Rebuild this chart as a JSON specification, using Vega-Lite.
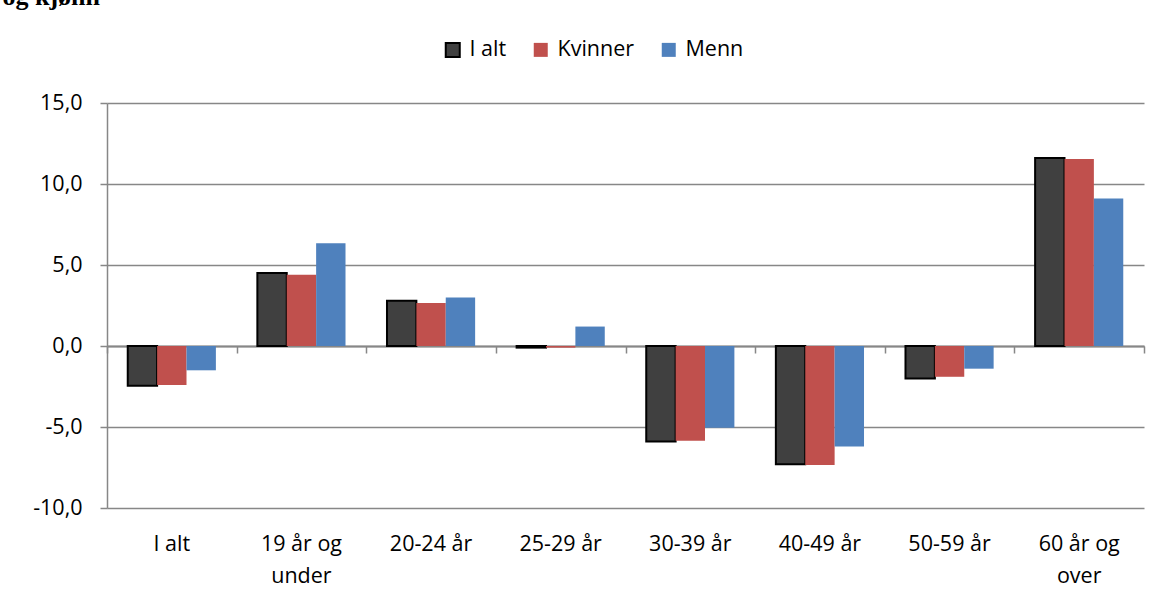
{
  "$schema": "https://vega.github.io/schema/vega-lite/v6.json",
  "width": 1037,
  "height": 405,
  "autosize": {"type": "none"},
  "padding": {"left": 107, "top": 103, "right": 18, "bottom": 92},
  "background": "white",
  "data": {
    "values": [
      {"gruppe": "I alt", "serie": "I alt", "verdi": -2.45},
      {"gruppe": "I alt", "serie": "Kvinner", "verdi": -2.4},
      {"gruppe": "I alt", "serie": "Menn", "verdi": -1.5},
      {"gruppe": "19 år og under", "serie": "I alt", "verdi": 4.5},
      {"gruppe": "19 år og under", "serie": "Kvinner", "verdi": 4.4},
      {"gruppe": "19 år og under", "serie": "Menn", "verdi": 6.35},
      {"gruppe": "20-24 år", "serie": "I alt", "verdi": 2.8},
      {"gruppe": "20-24 år", "serie": "Kvinner", "verdi": 2.65},
      {"gruppe": "20-24 år", "serie": "Menn", "verdi": 3.0},
      {"gruppe": "25-29 år", "serie": "I alt", "verdi": -0.1},
      {"gruppe": "25-29 år", "serie": "Kvinner", "verdi": -0.1},
      {"gruppe": "25-29 år", "serie": "Menn", "verdi": 1.2},
      {"gruppe": "30-39 år", "serie": "I alt", "verdi": -5.9},
      {"gruppe": "30-39 år", "serie": "Kvinner", "verdi": -5.85},
      {"gruppe": "30-39 år", "serie": "Menn", "verdi": -5.05},
      {"gruppe": "40-49 år", "serie": "I alt", "verdi": -7.3},
      {"gruppe": "40-49 år", "serie": "Kvinner", "verdi": -7.35},
      {"gruppe": "40-49 år", "serie": "Menn", "verdi": -6.2},
      {"gruppe": "50-59 år", "serie": "I alt", "verdi": -2.0},
      {"gruppe": "50-59 år", "serie": "Kvinner", "verdi": -1.9},
      {"gruppe": "50-59 år", "serie": "Menn", "verdi": -1.4},
      {"gruppe": "60 år og over", "serie": "I alt", "verdi": 11.6},
      {"gruppe": "60 år og over", "serie": "Kvinner", "verdi": 11.55},
      {"gruppe": "60 år og over", "serie": "Menn", "verdi": 9.1}
    ]
  },
  "layer": [
    {
      "mark": {"type": "bar", "strokeWidth": 2},
      "encoding": {
        "x": {
          "field": "gruppe",
          "type": "nominal",
          "sort": null,
          "scale": {"paddingInner": 0.32, "paddingOuter": 0.16},
          "axis": {
            "title": null,
            "orient": "bottom",
            "domain": false,
            "ticks": false,
            "labelAngle": 0,
            "labelFont": "Open Sans",
            "labelFontSize": 21.5,
            "labelColor": "#000000",
            "labelPadding": 25,
            "labelLineHeight": 32,
            "labelBaseline": "top",
            "labelExpr": "datum.value == '19 år og under' ? ['19 år og', 'under'] : datum.value == '60 år og over' ? ['60 år og', 'over'] : datum.value"
          }
        },
        "xOffset": {"field": "serie", "type": "nominal", "sort": ["I alt", "Kvinner", "Menn"]},
        "y": {
          "field": "verdi",
          "type": "quantitative",
          "scale": {"domain": [-10, 15], "nice": false, "zero": false},
          "axis": {
            "title": "og kjønn",
            "titleAngle": 0,
            "titleAlign": "left",
            "titleBaseline": "alphabetic",
            "titleX": -105,
            "titleY": -99,
            "titleFont": "Liberation Serif",
            "titleFontSize": 26,
            "titleFontWeight": "bold",
            "titleColor": "#000000",
            "values": [-10, -5, 0, 5, 10, 15],
            "grid": true,
            "gridColor": "#878787",
            "gridWidth": 1.5,
            "domain": true,
            "domainColor": "#878787",
            "domainWidth": 1.5,
            "tickColor": "#878787",
            "tickWidth": 1.5,
            "tickSize": 7,
            "labelPadding": 18,
            "labelFont": "Open Sans",
            "labelFontSize": 21.5,
            "labelColor": "#000000",
            "labelExpr": "replace(replace(format(datum.value, '.1f'), '.', ','), '−', '-')"
          }
        },
        "fill": {
          "field": "serie",
          "type": "nominal",
          "scale": {"domain": ["I alt", "Kvinner", "Menn"], "range": ["#404040", "#C0504D", "#4F81BD"]},
          "legend": {
            "title": null,
            "orient": "none",
            "direction": "horizontal",
            "legendX": 335,
            "legendY": -64,
            "symbolType": "square",
            "symbolSize": 196,
            "symbolStrokeWidth": 2,
            "labelFont": "Open Sans",
            "labelFontSize": 21.5,
            "labelColor": "#000000",
            "labelOffset": 6,
            "columnPadding": 22,
            "padding": 0
          }
        },
        "stroke": {
          "field": "serie",
          "type": "nominal",
          "scale": {"domain": ["I alt", "Kvinner", "Menn"], "range": ["#000000", "transparent", "transparent"]},
          "legend": {
            "title": null,
            "orient": "none",
            "direction": "horizontal",
            "legendX": 335,
            "legendY": -64,
            "symbolType": "square",
            "symbolSize": 196,
            "symbolStrokeWidth": 2,
            "labelFont": "Open Sans",
            "labelFontSize": 21.5,
            "labelColor": "#000000",
            "labelOffset": 6,
            "columnPadding": 22,
            "padding": 0
          }
        }
      }
    },
    {
      "mark": {"type": "bar", "opacity": 0},
      "encoding": {
        "x": {
          "field": "gruppe",
          "type": "nominal",
          "sort": null,
          "scale": {"paddingInner": 0, "paddingOuter": 0},
          "axis": {
            "title": null,
            "orient": "bottom",
            "offset": -162,
            "labels": false,
            "grid": false,
            "domain": true,
            "domainColor": "#878787",
            "domainWidth": 2,
            "ticks": true,
            "tickBand": "extent",
            "tickColor": "#878787",
            "tickWidth": 1.5,
            "tickSize": 7
          }
        },
        "y": {
          "field": "verdi",
          "type": "quantitative",
          "scale": {"domain": [-10, 15], "nice": false, "zero": false}
        }
      }
    }
  ],
  "resolve": {"axis": {"x": "independent"}, "scale": {"x": "independent"}},
  "config": {
    "view": {"stroke": null}
  }
}
